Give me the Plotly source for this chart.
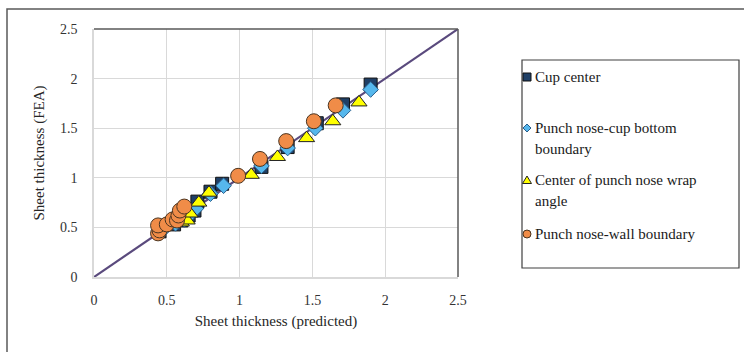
import plotly.graph_objects as go

# Sheet thickness: predicted vs FEA, four measurement locations
cup_center_pred = [0.45, 0.55, 0.60, 0.65, 0.69, 0.71, 0.80, 0.88, 1.15, 1.33, 1.53, 1.71, 1.90]
cup_center_fea = [0.46, 0.53, 0.57, 0.62, 0.67, 0.76, 0.86, 0.94, 1.11, 1.31, 1.55, 1.74, 1.94]

bottom_pred = [0.47, 0.56, 0.62, 0.66, 0.70, 0.80, 0.89, 1.15, 1.33, 1.52, 1.71, 1.90]
bottom_fea = [0.47, 0.54, 0.58, 0.63, 0.69, 0.84, 0.92, 1.12, 1.30, 1.50, 1.68, 1.89]

wrap_pred = [0.60, 0.64, 0.66, 0.72, 0.79, 1.08, 1.26, 1.46, 1.64, 1.82]
wrap_fea = [0.55, 0.57, 0.64, 0.75, 0.85, 1.03, 1.21, 1.40, 1.57, 1.76]

wall_pred = [0.44, 0.45, 0.44, 0.50, 0.54, 0.57, 0.58, 0.59, 0.62, 0.99, 1.14, 1.32, 1.51, 1.66]
wall_fea = [0.44, 0.47, 0.52, 0.53, 0.58, 0.57, 0.62, 0.67, 0.71, 1.02, 1.19, 1.37, 1.57, 1.73]

line_ends = [0, 2.5]
tick_vals = [0, 0.5, 1, 1.5, 2, 2.5]
tick_text = ["0", "0.5", "1", "1.5", "2", "2.5"]

FONT = "Liberation Serif, Times New Roman, serif"
W, H = 744, 352
L, R, T, B = 94, 458, 29, 277


def px(xp):
    return (xp - L) / (R - L)


def py(yp):
    return (B - yp) / (B - T)


fig = go.Figure()
fig.add_trace(go.Scatter(x=line_ends, y=line_ends, mode="lines",
                         line=dict(color="#5A4A7D", width=2.2), hoverinfo="skip"))
fig.add_trace(go.Scatter(x=cup_center_pred, y=cup_center_fea, mode="markers",
                         marker=dict(symbol="square", size=13, color="#1F3F66",
                                     line=dict(color="#111111", width=1))))
fig.add_trace(go.Scatter(x=bottom_pred, y=bottom_fea, mode="markers",
                         marker=dict(symbol="diamond", size=12, color="#56B7EC",
                                     line=dict(color="#2A5F8C", width=1))))
fig.add_trace(go.Scatter(x=wrap_pred, y=wrap_fea, mode="markers",
                         marker=dict(symbol="triangle-up", size=14, color="#FFFF00",
                                     line=dict(color="#222222", width=1))))
fig.add_trace(go.Scatter(x=wall_pred, y=wall_fea, mode="markers",
                         marker=dict(symbol="circle", size=15, color="#F08C48",
                                     line=dict(color="#4A3420", width=1))))

shapes = []
# outer frame
shapes.append(dict(type="rect", xref="paper", yref="paper",
                   x0=px(7), x1=px(760), y0=py(370), y1=py(9),
                   line=dict(color="#595959", width=1.5)))
# plot area top and right border
shapes.append(dict(type="line", xref="paper", yref="paper",
                   x0=0, x1=1, y0=1, y1=1, line=dict(color="#595959", width=1.5)))
shapes.append(dict(type="line", xref="paper", yref="paper",
                   x0=1, x1=1, y0=0, y1=1, line=dict(color="#595959", width=1.5)))
# legend box
shapes.append(dict(type="rect", xref="paper", yref="paper",
                   x0=px(522), x1=px(739), y0=py(268), y1=py(60),
                   line=dict(color="#404040", width=1.2)))

# legend symbols
sx = 527
s = 4
shapes.append(dict(type="rect", xref="paper", yref="paper",
                   x0=px(sx - s), x1=px(sx + s), y0=py(77 + s), y1=py(77 - s),
                   fillcolor="#1F3F66", line=dict(color="#111111", width=1)))
cy = 128
shapes.append(dict(type="path", xref="paper", yref="paper",
                   path=f"M {px(sx)} {py(cy - 4)} L {px(sx + 4)} {py(cy)} L {px(sx)} {py(cy + 4)} L {px(sx - 4)} {py(cy)} Z",
                   fillcolor="#56B7EC", line=dict(color="#2A5F8C", width=1)))
cy = 180
shapes.append(dict(type="path", xref="paper", yref="paper",
                   path=f"M {px(sx)} {py(cy - 4)} L {px(sx + 4.5)} {py(cy + 3.5)} L {px(sx - 4.5)} {py(cy + 3.5)} Z",
                   fillcolor="#FFFF00", line=dict(color="#222222", width=1)))
cy = 234
shapes.append(dict(type="circle", xref="paper", yref="paper",
                   x0=px(sx - 4), x1=px(sx + 4), y0=py(cy + 4), y1=py(cy - 4),
                   fillcolor="#F08C48", line=dict(color="#4A3420", width=1)))

annotations = []
legend_lines = [("Cup center", 77), ("Punch nose-cup bottom", 128), ("boundary", 149),
                ("Center of punch nose wrap", 180), ("angle", 201),
                ("Punch nose-wall boundary", 234)]
for txt, yy in legend_lines:
    annotations.append(dict(text=txt, xref="paper", yref="paper", x=px(533), y=py(yy),
                            xanchor="left", yanchor="middle", showarrow=False,
                            font=dict(family=FONT, size=15, color="#1A1A1A")))

fig.update_layout(
    width=W, height=H,
    margin=dict(l=L, r=W - R, t=T, b=H - B),
    paper_bgcolor="white", plot_bgcolor="white",
    showlegend=False,
    shapes=shapes, annotations=annotations,
    font=dict(family=FONT, size=14, color="#333333"),
    xaxis=dict(range=[0, 2.5], tickvals=tick_vals, ticktext=tick_text,
               showgrid=True, gridcolor="#D9D9D9", gridwidth=1,
               zeroline=False, showline=True, linecolor="#D9D9D9", linewidth=1.5,
               ticks="outside", ticklen=9, tickcolor="rgba(0,0,0,0)",
               tickfont=dict(family=FONT, size=14, color="#333333"),
               title=dict(text="Sheet thickness (predicted)", standoff=9,
                          font=dict(family=FONT, size=15, color="#262626"))),
    yaxis=dict(range=[0, 2.5], tickvals=tick_vals, ticktext=tick_text,
               showgrid=True, gridcolor="#D9D9D9", gridwidth=1,
               zeroline=False, showline=True, linecolor="#D9D9D9", linewidth=1.5,
               ticks="outside", ticklen=12, tickcolor="rgba(0,0,0,0)",
               tickfont=dict(family=FONT, size=14, color="#333333"),
               title=dict(text="Sheet thickness (FEA)", standoff=12,
                          font=dict(family=FONT, size=15, color="#262626"))),
)

fig.write_html("out.html")
